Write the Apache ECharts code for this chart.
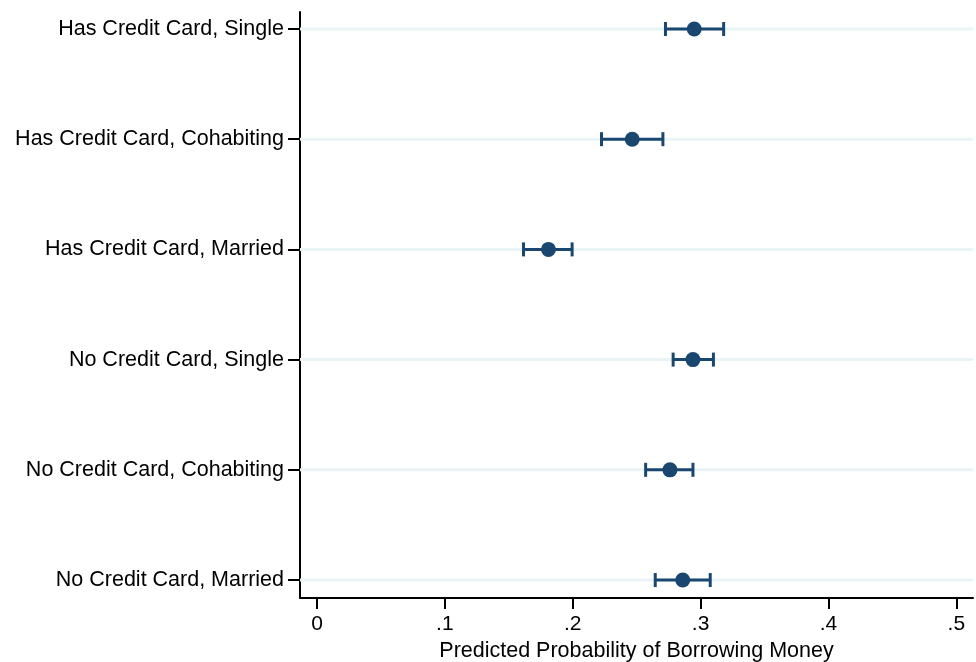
<!DOCTYPE html>
<html>
<head>
<meta charset="utf-8">
<script src="https://cdn.jsdelivr.net/npm/echarts@6/dist/echarts.min.js"></script>
<style>html,body{margin:0;padding:0;background:#fff}#c{width:976px;height:662px}</style>
</head>
<body>
<div id="c"></div>
<script>
var categories = ["Has Credit Card, Single","Has Credit Card, Cohabiting","Has Credit Card, Married","No Credit Card, Single","No Credit Card, Cohabiting","No Credit Card, Married"];
var estimates = [0.295, 0.2465, 0.181, 0.294, 0.276, 0.286];
var lowerCI = [0.2725, 0.2225, 0.1615, 0.2785, 0.257, 0.2645];
var upperCI = [0.318, 0.2705, 0.1995, 0.310, 0.294, 0.3075];
var xTicks = [0, 0.1, 0.2, 0.3, 0.4, 0.5];
var xTickLabels = ["0", ".1", ".2", ".3", ".4", ".5"];

var rows = categories.map(function(c,i){return i+1;});
var color = '#1a476f';
var font = 'Liberation Sans, Arial, Helvetica, sans-serif';

var chart = echarts.init(document.getElementById('c'));
chart.setOption({
  animation: false,
  grid: {left: 300, right: 3, top: 12, bottom: 64, containLabel: false, outerBoundsMode: 'none'},
  xAxis: {
    type: 'value', min: -0.0133, max: 0.513,
    name: 'Predicted Probability of Borrowing Money', nameLocation: 'middle', nameGap: 40,
    nameTextStyle: {fontFamily: font, fontSize: 21.5, color: '#000'},
    axisLine: {show: true, onZero: false, lineStyle: {color: '#000', width: 2}},
    axisTick: {show: true, length: 11, lineStyle: {color: '#000', width: 2}, customValues: xTicks},
    axisLabel: {fontFamily: font, fontSize: 21, color: '#000', margin: 16, customValues: xTicks,
      formatter: function(v){ var i = xTicks.findIndex(function(t){return Math.abs(t-v)<1e-9;}); return i>=0 ? xTickLabels[i] : ''; }},
    splitLine: {show: false}
  },
  yAxis: {
    type: 'value', inverse: true, min: 0.846, max: 6.163,
    axisLine: {show: true, onZero: false, lineStyle: {color: '#000', width: 2}},
    axisTick: {show: true, length: 12, lineStyle: {color: '#000', width: 2}, customValues: rows},
    axisLabel: {fontFamily: font, fontSize: 21.5, color: '#000', margin: 16, customValues: rows,
      formatter: function(v){ var i = Math.round(v)-1; return categories[i] || ''; }},
    splitLine: {show: false}
  },
  series: [
    {
      type: 'custom',
      silent: true,
      z: 1,
      data: rows.map(function(r){return [r];}),
      encode: {y: 0},
      renderItem: function(params, api){
        var y = api.coord([0, api.value(0)])[1];
        var cs = params.coordSys;
        return {type: 'line', shape: {x1: cs.x, y1: y, x2: cs.x + cs.width, y2: y},
          style: {stroke: '#eaf3f5', lineWidth: 3}};
      }
    },
    {
      type: 'custom',
      z: 2,
      data: rows.map(function(r,i){return [lowerCI[i], upperCI[i], r];}),
      encode: {x: [0,1], y: 2},
      renderItem: function(params, api){
        var r = api.value(2);
        var p1 = api.coord([api.value(0), r]);
        var p2 = api.coord([api.value(1), r]);
        var h = 7;
        var st = {stroke: color, lineWidth: 3};
        return {type: 'group', children: [
          {type: 'line', shape: {x1: p1[0], y1: p1[1], x2: p2[0], y2: p2[1]}, style: st},
          {type: 'line', shape: {x1: p1[0], y1: p1[1]-h, x2: p1[0], y2: p1[1]+h}, style: st},
          {type: 'line', shape: {x1: p2[0], y1: p2[1]-h, x2: p2[0], y2: p2[1]+h}, style: st}
        ]};
      }
    },
    {
      type: 'scatter',
      z: 3,
      symbol: 'circle',
      symbolSize: 15,
      itemStyle: {color: color, opacity: 1},
      data: rows.map(function(r,i){return [estimates[i], r];})
    }
  ]
});
</script>
</body>
</html>
